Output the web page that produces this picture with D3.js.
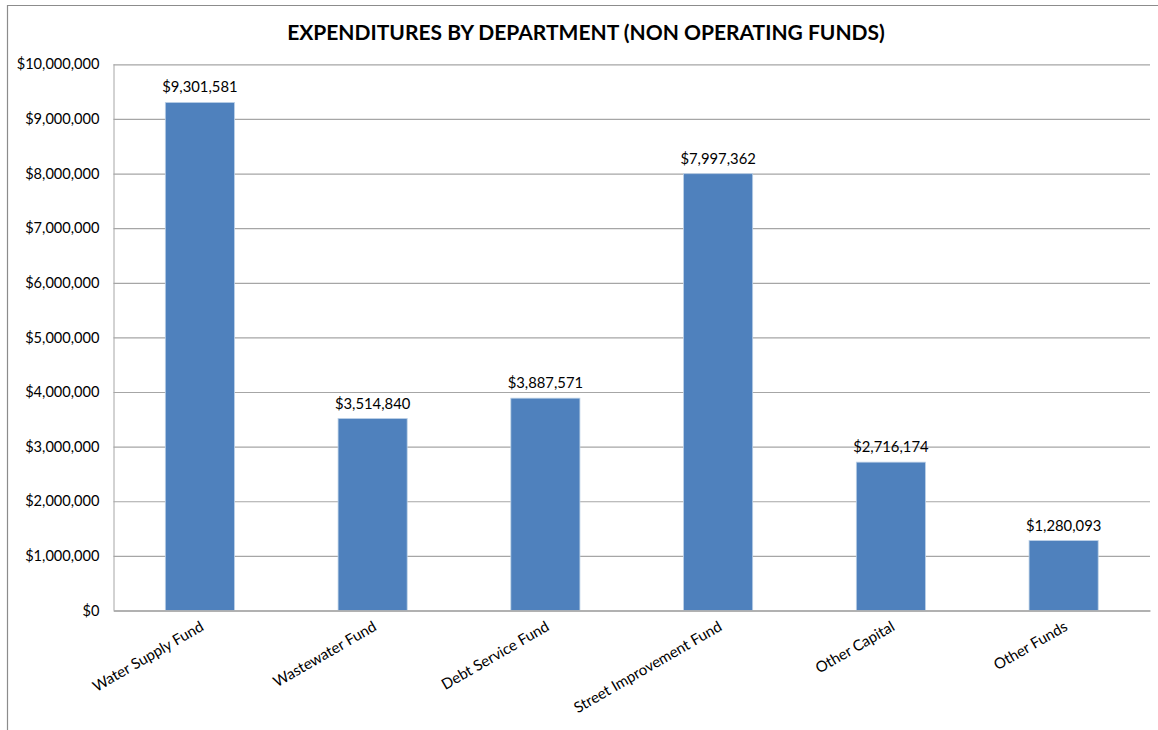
<!DOCTYPE html>
<html>
<head>
<meta charset="utf-8">
<script src="https://cdn.jsdelivr.net/npm/d3@7"></script>
<style>
  html, body { margin: 0; padding: 0; background: #fff; }
  svg { display: block; }
  text { font-family: Lato, "Open Sans", sans-serif; fill: #000; }
</style>
</head>
<body>
<script>
// Non-operating fund expenditures by department
const categories = ["Water Supply Fund", "Wastewater Fund", "Debt Service Fund",
                    "Street Improvement Fund", "Other Capital", "Other Funds"];
const expenditures = [9301581, 3514840, 3887571, 7997362, 2716174, 1280093];
const yTicks = [0, 1000000, 2000000, 3000000, 4000000, 5000000,
                6000000, 7000000, 8000000, 9000000, 10000000];
const chartTitle = "EXPENDITURES BY DEPARTMENT (NON OPERATING FUNDS)";

const W = 1158, H = 730;
const margin = { left: 113.5, right: 8, top: 64.3, bottom: 119.5 };

const svg = d3.select("body").append("svg")
  .attr("width", W).attr("height", H);

// chart frame
svg.append("path")
  .attr("d", `M7.5,${H} V5.5 H${W}`)
  .attr("fill", "none")
  .attr("stroke", "#8c8c8c")
  .attr("stroke-width", 1.2);

const x = d3.scaleBand()
  .domain(categories)
  .range([margin.left, W - margin.right])
  .paddingInner(0.6)
  .paddingOuter(0.3);

const y = d3.scaleLinear()
  .domain([0, 10000000])
  .range([H - margin.bottom, margin.top]);

const money = d3.format("$,");

// title
svg.append("text")
  .attr("x", 586)
  .attr("y", 40)
  .attr("text-anchor", "middle")
  .attr("font-weight", "bold")
  .attr("font-size", 21)
  .text(chartTitle);

// horizontal gridlines and left axis
const yAxis = d3.axisLeft(y)
  .tickValues(yTicks)
  .tickFormat(money)
  .tickSize(-(W - margin.right - margin.left))
  .tickPadding(14);

const gy = svg.append("g")
  .attr("transform", `translate(${margin.left},0)`)
  .call(yAxis);
gy.select(".domain").attr("stroke", "#a6a6a6").attr("d", `M0.5,${y(0)}V${y(10000000)}`);
gy.selectAll(".tick line").attr("stroke", "#a6a6a6").attr("stroke-width", 1.2);
gy.selectAll(".tick text")
  .attr("font-size", 14.6)
  .attr("fill", "#000")
  .style("font-family", "Lato, sans-serif");

// bars
svg.append("g").selectAll("rect")
  .data(expenditures)
  .join("rect")
  .attr("x", (d, i) => x(categories[i]))
  .attr("y", d => y(d))
  .attr("width", x.bandwidth())
  .attr("height", d => y(0) - y(d))
  .attr("fill", "#4f81bd")
  .attr("stroke", "#bcd0e6")
  .attr("stroke-width", 0.8);

// value labels
svg.append("g").selectAll("text")
  .data(expenditures)
  .join("text")
  .attr("x", (d, i) => x(categories[i]) + x.bandwidth() / 2)
  .attr("y", d => y(d) - 10)
  .attr("text-anchor", "middle")
  .attr("font-size", 14.8)
  .text(d => money(d));

// rotated category labels
const xAxis = d3.axisBottom(x).tickSize(0).tickPadding(0);
const gx = svg.append("g")
  .attr("transform", `translate(0,${y(0)})`)
  .call(xAxis);
gx.select(".domain").attr("stroke", "#a6a6a6").attr("stroke-width", 1.4);
gx.selectAll(".tick text")
  .attr("font-size", 15)
  .attr("fill", "#000")
  .style("font-family", "Lato, sans-serif")
  .attr("text-anchor", "end")
  .attr("dy", 0)
  .attr("transform", "translate(5,19) rotate(-30)");
</script>
</body>
</html>
